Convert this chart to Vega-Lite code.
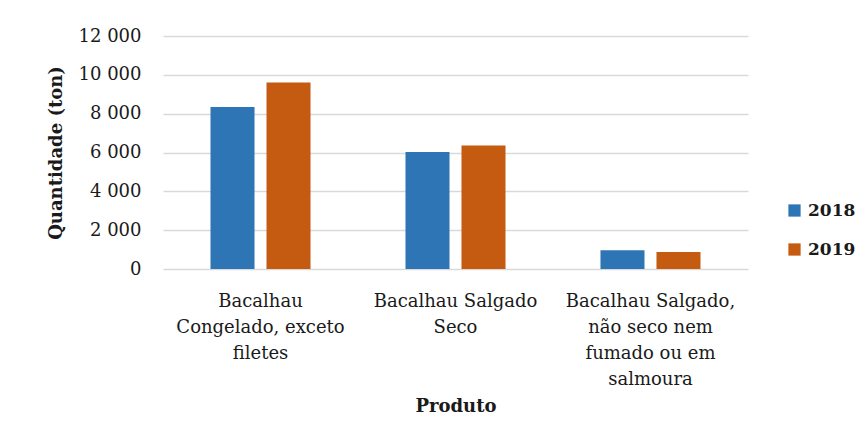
{
  "$schema": "https://vega.github.io/schema/vega-lite/v6.json",
  "width": 585,
  "height": 233,
  "autosize": {"type": "none"},
  "padding": {"left": 163, "top": 36, "right": 118, "bottom": 172},
  "background": "white",
  "data": {
    "values": [
      {"produto": "Bacalhau Congelado, exceto filetes", "ano": "2018", "quantidade": 8340},
      {"produto": "Bacalhau Congelado, exceto filetes", "ano": "2019", "quantidade": 9610},
      {"produto": "Bacalhau Salgado Seco", "ano": "2018", "quantidade": 6020},
      {"produto": "Bacalhau Salgado Seco", "ano": "2019", "quantidade": 6360},
      {"produto": "Bacalhau Salgado, não seco nem fumado ou em salmoura", "ano": "2018", "quantidade": 960},
      {"produto": "Bacalhau Salgado, não seco nem fumado ou em salmoura", "ano": "2019", "quantidade": 880}
    ]
  },
  "mark": {"type": "bar"},
  "encoding": {
    "x": {
      "field": "produto",
      "type": "nominal",
      "sort": null,
      "scale": {"paddingInner": 0.487, "paddingOuter": 0.2436},
      "axis": {
        "title": "Produto",
        "labelAngle": 0,
        "labelExpr": "datum.value == 'Bacalhau Congelado, exceto filetes' ? ['Bacalhau', 'Congelado, exceto', 'filetes'] : datum.value == 'Bacalhau Salgado Seco' ? ['Bacalhau Salgado', 'Seco'] : ['Bacalhau Salgado,', 'não seco nem', 'fumado ou em', 'salmoura']",
        "labelLimit": 0,
        "labelPadding": 23,
        "labelLineHeight": 26,
        "labelFont": "DejaVu Serif",
        "labelFontSize": 18,
        "labelColor": "#1a1a1a",
        "domain": false,
        "ticks": false,
        "titleFont": "DejaVu Serif",
        "titleFontSize": 18,
        "titleFontWeight": "bold",
        "titleColor": "#1a1a1a",
        "titlePadding": 9
      }
    },
    "xOffset": {
      "field": "ano",
      "type": "nominal",
      "scale": {"paddingInner": 0.214, "paddingOuter": 0}
    },
    "y": {
      "field": "quantidade",
      "type": "quantitative",
      "scale": {"domain": [0, 12000]},
      "axis": {
        "title": "Quantidade (ton)",
        "values": [0, 2000, 4000, 6000, 8000, 10000, 12000],
        "labelExpr": "replace(format(datum.value, ','), ',', ' ')",
        "labelPadding": 22,
        "labelFont": "DejaVu Serif",
        "labelFontSize": 18,
        "labelColor": "#1a1a1a",
        "domain": false,
        "ticks": false,
        "grid": true,
        "gridColor": "#d9d9d9",
        "gridWidth": 1.5,
        "titleFont": "DejaVu Serif",
        "titleFontSize": 18,
        "titleFontWeight": "bold",
        "titleColor": "#1a1a1a",
        "titlePadding": 13
      }
    },
    "color": {
      "field": "ano",
      "type": "nominal",
      "scale": {"domain": ["2018", "2019"], "range": ["#2E75B6", "#C55A11"]},
      "legend": {
        "title": null,
        "orient": "none",
        "legendX": 623,
        "legendY": 166,
        "symbolType": "square",
        "symbolSize": 150,
        "symbolStrokeWidth": 0,
        "labelFont": "DejaVu Serif",
        "labelFontSize": 17,
        "labelFontWeight": "bold",
        "labelColor": "#1a1a1a",
        "labelOffset": 5,
        "rowPadding": 21
      }
    }
  },
  "config": {"view": {"stroke": null}}
}
